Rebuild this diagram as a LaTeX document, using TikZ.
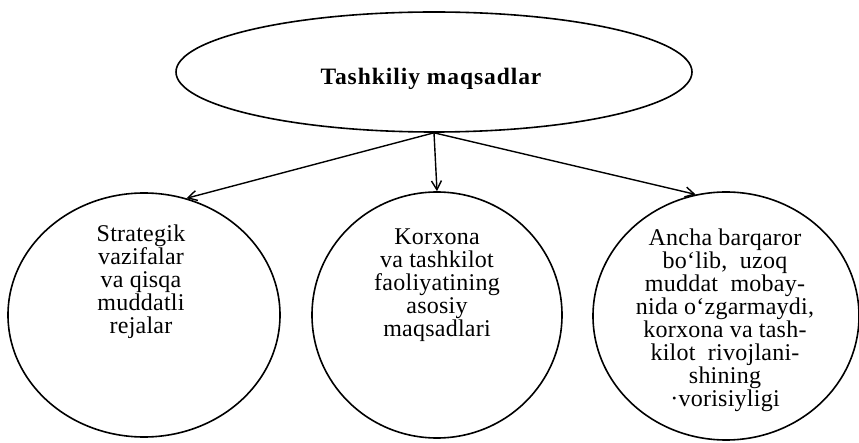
\documentclass[tikz,border=0pt]{standalone}
\usepackage{fontspec}
\setmainfont[LetterSpace=1]{Liberation Serif}
\newfontfamily\titlefont[LetterSpace=4]{Liberation Serif}
\usetikzlibrary{shapes.geometric,arrows.meta}
\begin{document}
\begin{tikzpicture}[x=1pt,y=-1pt,
  shapeline/.style={draw, line width=1.6pt, ellipse, inner sep=0pt},
  bodytext/.style={align=center, inner sep=0pt, anchor=north, font=\fontsize{24}{23}\selectfont},
  conn/.style={line width=1.4pt, -{Straight Barb[length=9pt,width=10pt,line width=1.4pt]}}]
\useasboundingbox (0,0) rectangle (859,443);
\node[shapeline, minimum width=516pt, minimum height=120pt] (top) at (434,72) {};
\node[anchor=base, inner sep=0pt, font=\titlefont\bfseries\fontsize{23.5}{24}\selectfont] (toptext) at (431,85) {Tashkiliy maqsadlar};
\node[shapeline, minimum width=272pt, minimum height=244pt] (c1) at (144,315) {};
\node[shapeline, minimum width=250pt, minimum height=246pt] (c2) at (437,315) {};
\node[shapeline, minimum width=266pt, minimum height=248pt] (c3) at (726,316) {};
\node[bodytext] (t1) at (141,225) {Strategik\\vazifalar\\va qisqa\\muddatli\\rejalar};
\node[bodytext] (t2) at (437,229) {Korxona\\va tashkilot\\faoliyatining\\asosiy\\maqsadlari};
\node[bodytext] (t3) at (725,229) {Ancha barqaror\\bo‘lib,\ \ uzoq\\muddat\ \ mobay-\\nida o‘zgarmaydi,\\korxona va tash-\\kilot\ \ rivojlani-\\shining\\·vorisiyligi};
\draw[conn] (top.south) -- (c1.70);
\draw[conn] (top.south) -- (c2.north);
\draw[conn] (top.south) -- (c3.104);
\end{tikzpicture}
\end{document}
